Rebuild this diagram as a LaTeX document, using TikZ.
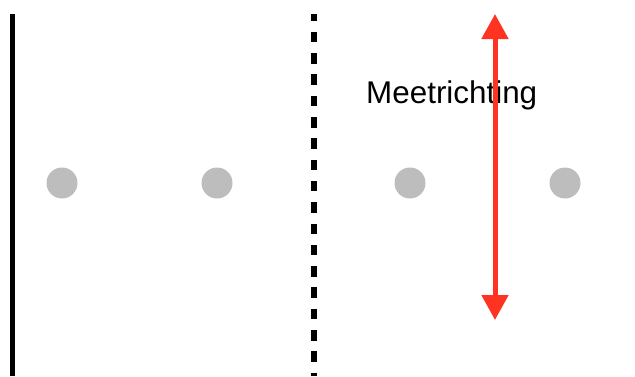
\documentclass[tikz,border=0pt]{standalone}
\usepackage{fontspec}
\setmainfont{Liberation Sans}
\usetikzlibrary{arrows.meta}
\definecolor{dotgrey}{HTML}{BDBDBD}
\definecolor{arrowred}{HTML}{FF3322}
\begin{document}
\begin{tikzpicture}[x=1pt,y=-1pt,
  dot/.style={circle,fill=dotgrey,inner sep=0pt,minimum size=31pt},
  wall/.style={line width=5pt,black},
  dottedwall/.style={line width=6pt,black,dash pattern=on 10.5pt off 10.8pt,dash phase=3.5pt},
  measure/.style={line width=5pt,arrowred,{Triangle[width=26pt,length=25pt]}-{Triangle[width=26pt,length=25pt]}},
  lbl/.style={font=\fontsize{31.4pt}{34pt}\selectfont,inner sep=0pt}]
\useasboundingbox (0,0) rectangle (635,376);
\coordinate (w1top) at (12.5,14);
\coordinate (w1bot) at (12.5,376);
\coordinate (w2top) at (314,14);
\coordinate (w2bot) at (314,376);
\coordinate (atop) at (495,14);
\coordinate (abot) at (495,320);
\draw[wall] (w1top) -- (w1bot);
\draw[dottedwall] (w2top) -- (w2bot);
\node[dot] (d1) at (62,183) {};
\node[dot] (d2) at (217,183) {};
\node[dot] (d3) at (410,183) {};
\node[dot] (d4) at (565,183) {};
\node[lbl,anchor=base west] (label) at (366,103) {Meetrichting};
\draw[measure] (atop) -- (abot);
\end{tikzpicture}
\end{document}
